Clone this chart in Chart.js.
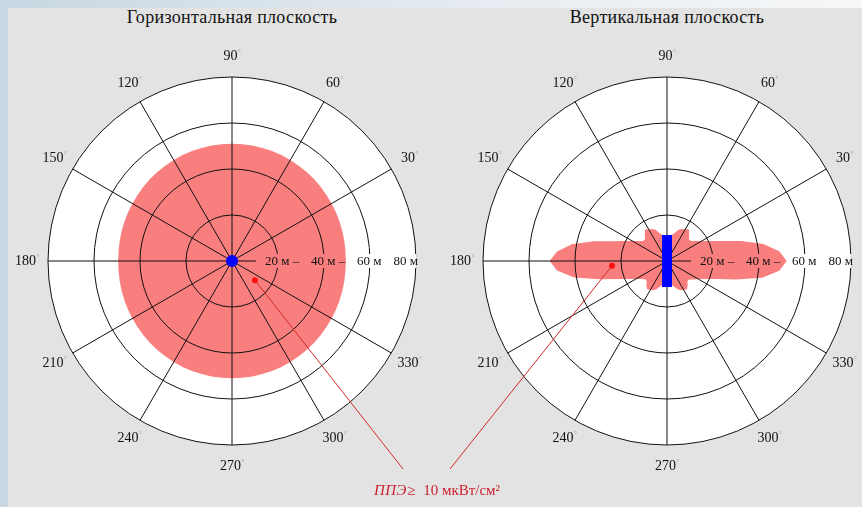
<!DOCTYPE html>
<html lang="ru">
<head>
<meta charset="utf-8">
<title>Диаграммы направленности</title>
<script src="https://cdn.jsdelivr.net/npm/chart.js@4.4.1/dist/chart.umd.min.js"></script>
<style>
  html, body { margin: 0; padding: 0; }
  body {
    width: 862px; height: 507px; position: relative; overflow: hidden;
    background: #c8d7e2;
    font-family: "Liberation Serif", "DejaVu Serif", serif;
  }
  .top { position: absolute; left: 0; top: 0; width: 862px; height: 8px;
         background: linear-gradient(to right, #c8d7e2, #e6ecf1 55%, #f6f7f8); }
  .panel { position: absolute; left: 8px; top: 8px; right: 0; bottom: 0; background: #e3e3e3; }
  .box { position: absolute; top: 0; width: 431px; height: 507px; }
  .title { position: absolute; top: 7px; font-size: 18px; color: #111; letter-spacing: 0.3px;
           transform: translateX(-50%); white-space: nowrap; }
  .note { position: absolute; left: 437px; top: 482px; transform: translateX(-50%);
          font-size: 15px; color: #cc1f2d; white-space: nowrap; }
  .note i { letter-spacing: 0.5px; }
</style>
</head>
<body>
<div class="top"></div>
<div class="panel"></div>
<div class="title" style="left:232px">Горизонтальная плоскость</div>
<div class="title" style="left:667px">Вертикальная плоскость</div>
<div class="box" style="left:0"><canvas id="horizontal"></canvas></div>
<div class="box" style="left:431px"><canvas id="vertical"></canvas></div>
<div class="note"><i>ППЭ≥</i>&nbsp; 10 мкВт/см²</div>
<script>
// directions, degrees counter-clockwise from the right
const angles = [
    0,   5,  10,  15,  20,  25,  30,  35,  40,  45,  50,  55,
   60,  65,  70,  75,  80,  85,  90,  95, 100, 105, 110, 115,
  120, 125, 130, 135, 140, 145, 150, 155, 160, 165, 170, 175,
  180, 185, 190, 195, 200, 205, 210, 215, 220, 225, 230, 235,
  240, 245, 250, 255, 260, 265, 270, 275, 280, 285, 290, 295,
  300, 305, 310, 315, 320, 325, 330, 335, 340, 345, 350, 355
];

// zone boundary, metres (horizontal plane)
const horizontalRange = [
  49.5, 49.5, 49.6, 49.7, 49.8, 49.9, 50.0, 50.1, 50.3, 50.4, 50.5, 50.6,
  50.7, 50.8, 50.9, 50.9, 51.0, 51.0, 51.0, 51.0, 51.0, 50.9, 50.9, 50.8,
  50.7, 50.6, 50.5, 50.4, 50.3, 50.1, 50.0, 49.9, 49.8, 49.7, 49.6, 49.5,
  49.5, 49.5, 49.6, 49.7, 49.8, 49.9, 50.0, 50.1, 50.3, 50.4, 50.5, 50.6,
  50.7, 50.8, 50.9, 50.9, 51.0, 51.0, 51.0, 51.0, 51.0, 50.9, 50.9, 50.8,
  50.7, 50.6, 50.5, 50.4, 50.3, 50.1, 50.0, 49.9, 49.8, 49.7, 49.6, 49.5
];

// zone boundary, metres (vertical plane)
const verticalRange = [
  52.0, 49.0, 42.5, 33.5, 25.5, 20.5, 17.4, 15.2, 13.5, 13.5, 15.0, 16.7,
  16.0, 15.3, 14.5, 12.5, 11.5, 10.5, 10.0, 10.5, 11.5, 12.5, 14.5, 15.3,
  16.0, 16.7, 15.0, 13.5, 13.5, 15.2, 17.4, 20.5, 25.2, 33.0, 42.0, 48.0,
  51.0, 48.0, 41.0, 30.5, 22.9, 18.5, 15.6, 13.6, 12.3, 12.5, 14.0, 15.0,
  14.5, 14.0, 13.0, 11.5, 10.5, 10.0,  9.5, 10.0, 10.5, 11.5, 13.0, 14.0,
  14.5, 15.0, 14.0, 12.5, 12.5, 14.0, 15.7, 18.5, 23.0, 31.0, 42.0, 49.0
];

const degreeLabels = [30, 60, 90, 120, 150, 180, 210, 240, 270, 300, 330];
const rangeTicks = [20, 40, 60, 80];
const rangeLabels = ['20 м –', '40 м –', '60 м', '80 м'];

// red pointers: [angle, metres]
const horizontalMarker = [320, 13];
const verticalMarker = [185, 24];

const PINK = '#f97e7e';
const BLUE = '#0000ff';
const RED = '#ff1010';
const LINE_RED = '#d42a2a';
const STEP = angles[1] - angles[0];

// radar goes clockwise from the top, the picture goes counter-clockwise from the right
function toRadar(values) {
    return angles.map((a, k) => values[angles.indexOf((450 - k * STEP) % 360)]);
}
const radarAngles = toRadar(angles);

function blueBar(w, h) {
    const c = document.createElement('canvas');
    c.width = w;
    c.height = h;
    const g = c.getContext('2d');
    g.fillStyle = BLUE;
    g.fillRect(0, 0, w, h);
    return c;
}

const polarDecor = {
    id: 'polarDecor',
    beforeDatasetsDraw(chart) {
        const r = chart.scales.r;
        const ctx = chart.ctx;
        ctx.save();
        ctx.beginPath();
        ctx.arc(r.xCenter, r.yCenter, r.drawingArea, 0, Math.PI * 2);
        ctx.fillStyle = '#fff';
        ctx.fill();
        ctx.restore();
    },
    beforeDatasetDraw(chart, args) {
        if (chart.data.datasets[args.index].onTop) return false;
    },
    afterDraw(chart) {
        const r = chart.scales.r;
        const ctx = chart.ctx;
        const zeroIdx = chart.data.labels.indexOf(0);
        const y = r.yCenter;

        // range labels along 0 degrees, grid lines hidden behind them
        ctx.save();
        ctx.font = '13px "Liberation Serif", serif';
        const boxes = rangeTicks.map((v, i) => {
            const ring = r.getPointPositionForValue(zeroIdx, v).x;
            const w = ctx.measureText(rangeLabels[i]).width;
            let left = ring - 13;
            if (i === rangeTicks.length - 1) left = Math.min(left, ring + 2 - w);
            return { left, w };
        });
        const last = boxes[boxes.length - 1];
        const x0 = boxes[0].left - 9;
        const x1 = last.left + last.w + 1;
        ctx.beginPath();
        ctx.rect(x0, y - 7, x1 - x0, 14);
        ctx.clip();
        ctx.beginPath();
        ctx.arc(r.xCenter, r.yCenter, r.drawingArea + 0.5, 0, Math.PI * 2);
        ctx.clip();
        ctx.fillStyle = '#fff';
        ctx.fillRect(x0, y - 7, x1 - x0, 14);
        const pts = chart.getDatasetMeta(0).data;
        ctx.beginPath();
        pts.forEach((p, i) => i ? ctx.lineTo(p.x, p.y) : ctx.moveTo(p.x, p.y));
        ctx.closePath();
        ctx.fillStyle = PINK;
        ctx.fill();
        ctx.restore();

        ctx.save();
        ctx.font = '13px "Liberation Serif", serif';
        ctx.fillStyle = '#111';
        ctx.textBaseline = 'middle';
        ctx.textAlign = 'left';
        boxes.forEach((b, i) => ctx.fillText(rangeLabels[i], b.left, y + 1));

        // degree labels
        degreeLabels.forEach(a => {
            const p = r.getPointPosition(chart.data.labels.indexOf(a), r.drawingArea + 21);
            const txt = String(a);
            ctx.font = '14px "Liberation Serif", serif';
            const w = ctx.measureText(txt).width;
            const left = p.x - (w + 3) / 2;
            ctx.fillStyle = '#111';
            ctx.fillText(txt, left, p.y);
            ctx.font = '7px "Liberation Serif", serif';
            ctx.fillStyle = '#999';
            ctx.fillText('°', left + w + 0.5, p.y - 4);
        });
        ctx.restore();

        // pointers and the emitter on top of the grid
        chart.data.datasets.forEach((ds, i) => {
            if (!ds.onTop) return;
            const meta = chart.getDatasetMeta(i);
            if (ds.anchor) {
                const pt = meta.data.find(p => !p.skip);
                ctx.save();
                ctx.strokeStyle = LINE_RED;
                ctx.lineWidth = 1;
                ctx.beginPath();
                ctx.moveTo(pt.x, pt.y);
                ctx.lineTo(ds.anchor[0], ds.anchor[1]);
                ctx.stroke();
                ctx.restore();
            }
            meta.controller.draw();
        });
    }
};

function polarChart(id, ranges, marker, centre, pad, anchor) {
    return new Chart(document.getElementById(id), {
        type: 'radar',
        data: {
            labels: radarAngles,
            datasets: [
                {
                    data: toRadar(ranges),
                    backgroundColor: PINK,
                    borderWidth: 0,
                    pointRadius: 0,
                    fill: 'start'
                },
                {
                    data: toRadar(angles.map(a => a === marker[0] ? marker[1] : null)),
                    showLine: false,
                    borderWidth: 0,
                    pointRadius: 3,
                    pointBackgroundColor: RED,
                    pointBorderWidth: 0,
                    onTop: true,
                    anchor: anchor
                },
                {
                    data: toRadar(angles.map(a => a === 90 ? 0 : null)),
                    showLine: false,
                    borderWidth: 0,
                    pointRadius: centre.radius,
                    pointStyle: centre.style,
                    pointBackgroundColor: BLUE,
                    pointBorderWidth: 0,
                    onTop: true
                }
            ]
        },
        options: {
            responsive: true,
            maintainAspectRatio: false,
            animation: false,
            events: [],
            layout: { padding: pad },
            elements: { line: { tension: 0 } },
            plugins: {
                legend: { display: false },
                tooltip: { enabled: false }
            },
            scales: {
                r: {
                    min: 0,
                    max: 80,
                    ticks: { stepSize: 20, display: false },
                    grid: { circular: true, color: '#111', lineWidth: 1, z: 1 },
                    angleLines: {
                        color: c => (c.label % 30 === 0 ? '#111' : 'transparent'),
                        lineWidth: 1
                    },
                    pointLabels: { display: false }
                }
            }
        },
        plugins: [polarDecor]
    });
}

polarChart('horizontal', horizontalRange, horizontalMarker,
    { style: 'circle', radius: 6 },
    { left: 48, right: 15, top: 77, bottom: 62 }, [403, 469]);

polarChart('vertical', verticalRange, verticalMarker,
    { style: blueBar(10, 52), radius: 5 },
    { left: 52, right: 11, top: 77, bottom: 62 }, [19, 469]);
</script>
</body>
</html>
